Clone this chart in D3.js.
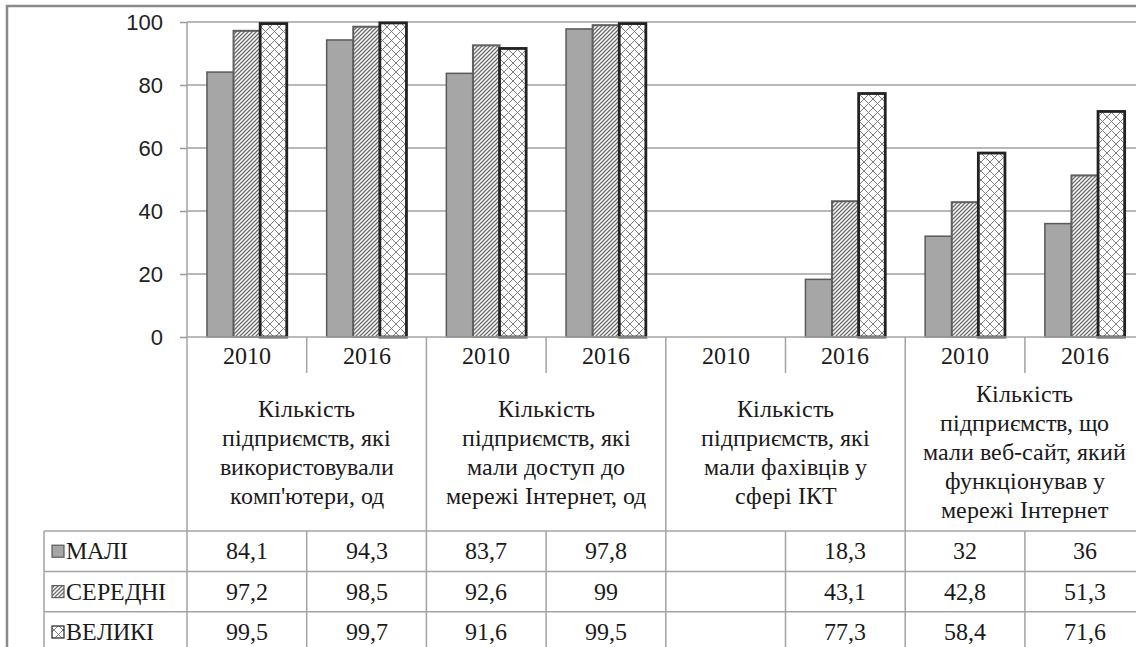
<!DOCTYPE html>
<html>
<head>
<meta charset="utf-8">
<script src="https://cdn.jsdelivr.net/npm/d3@7"></script>
<style>
  @font-face {
    font-family: "TableSerif";
    src: local("Liberation Serif"), local("LiberationSerif"), local("LiberationSerif-Regular"),
         local("Tinos"), local("Tinos-Regular"), local("FreeSerif"), local("Noto Serif");
  }
</style>
</head>
<body style="margin:0">
<svg id="chart" width="1136" height="647"></svg>
<script>
// categories: 4 indicator groups x 2 years
const groupLabels = [
  ["Кількість", "підприємств, які", "використовували", "комп'ютери, од"],
  ["Кількість", "підприємств, які", "мали доступ до", "мережі Інтернет, од"],
  ["Кількість", "підприємств, які", "мали фахівців у", "сфері ІКТ"],
  ["Кількість", "підприємств, що", "мали веб-сайт, який", "функціонував у", "мережі Інтернет"]
];
const years = ["2010", "2016"];
const seriesNames = ["МАЛІ", "СЕРЕДНІ", "ВЕЛИКІ"];

// values per category (group/year), null = no data
const maliValues    = [84.1, 94.3, 83.7, 97.8, null, 18.3, 32, 36];
const seredniValues = [97.2, 98.5, 92.6, 99, null, 43.1, 42.8, 51.3];
const velykiValues  = [99.5, 99.7, 91.6, 99.5, null, 77.3, 58.4, 71.6];

const yTicks = [0, 20, 40, 60, 80, 100];

const seriesValues = [maliValues, seredniValues, velykiValues];
const categories = [];
groupLabels.forEach((g, gi) => years.forEach((yr, yi) => categories.push({ idx: gi * 2 + yi, group: gi, year: yr })));

const svg = d3.select("#chart");
const W = 1136, H = 647;
const serifFont = "TableSerif, 'Liberation Serif', Tinos, 'Times New Roman', FreeSerif";

// plot geometry
const plotLeft = 187, plotTop = 22, base = 337;
const step = 119.7;
const plotRight = plotLeft + step * categories.length;

const x = d3.scaleBand()
  .domain(categories.map(d => d.idx))
  .range([plotLeft, plotRight])
  .padding(0);

const xs = d3.scaleBand()
  .domain(seriesNames)
  .range([0, x.bandwidth()])
  .paddingInner(0)
  .paddingOuter(0.75);

const y = d3.scaleLinear().domain([0, 100]).range([base, plotTop]);

// patterns
const defs = svg.append("defs");
let hatch = defs.append("pattern")
  .attr("id", "hatch").attr("patternUnits", "userSpaceOnUse")
  .attr("width", 4).attr("height", 4);
hatch.append("rect").attr("width", 4).attr("height", 4).attr("fill", "#fff");
hatch.append("path").attr("d", "M-1,1 l2,-2 M0,4 l4,-4 M3,5 l2,-2")
  .attr("stroke", "#6b6b6b").attr("stroke-width", 1.3);

let cross = defs.append("pattern")
  .attr("id", "cross").attr("patternUnits", "userSpaceOnUse")
  .attr("width", 9).attr("height", 9);
cross.append("rect").attr("width", 9).attr("height", 9).attr("fill", "#fff");
cross.append("path").attr("d", "M0,0 L9,9 M9,0 L0,9")
  .attr("stroke", "#808080").attr("stroke-width", 1);

const fills = ["#a6a6a6", "url(#hatch)", "url(#cross)"];
const strokes = ["#595959", "#5f5f5f", "#222"];
const strokeW = [1.5, 2, 2.8];

svg.append("rect").attr("width", W).attr("height", H).attr("fill", "#fff");

// outer frame
svg.append("rect")
  .attr("x", 7).attr("y", 6).attr("width", W + 20).attr("height", H + 20)
  .attr("fill", "none").attr("stroke", "#8a8a8a").attr("stroke-width", 2.5);

// gridlines + axis
const yAxis = d3.axisLeft(y).tickValues(yTicks).tickSize(7).tickPadding(17);
const gAxis = svg.append("g").attr("transform", `translate(${plotLeft},0)`).call(yAxis);
gAxis.attr("font-family", null).attr("font-size", null);
gAxis.select(".domain").remove();
gAxis.selectAll(".tick line").attr("stroke", "#9a9a9a").attr("stroke-width", 1.5);
gAxis.selectAll(".tick text")
  .style("font-family", "'Liberation Sans'")
  .attr("font-size", 22)
  .attr("fill", "#222");

svg.append("g").selectAll("line")
  .data(yTicks.filter(t => t > 0))
  .join("line")
  .attr("x1", plotLeft).attr("x2", W)
  .attr("y1", d => y(d)).attr("y2", d => y(d))
  .attr("stroke", "#a0a0a0").attr("stroke-width", 1.5);

// bars
seriesNames.forEach((s, si) => {
  svg.append("g").selectAll("rect")
    .data(categories.filter(c => seriesValues[si][c.idx] != null))
    .join("rect")
    .attr("x", c => x(c.idx) + xs(s))
    .attr("width", xs.bandwidth())
    .attr("y", c => y(seriesValues[si][c.idx]))
    .attr("height", c => base - y(seriesValues[si][c.idx]))
    .attr("fill", fills[si])
    .attr("stroke", strokes[si])
    .attr("stroke-width", strokeW[si]);
});

// table lines
const lineCol = "#a3a3a3";
const rowTop = 531, rowH = 40.4;
const tableBottom = H + 10;
const lines = svg.append("g").attr("stroke", lineCol).attr("stroke-width", 1.5);

lines.append("line").attr("x1", plotLeft).attr("x2", W).attr("y1", base).attr("y2", base);
lines.append("line").attr("x1", plotLeft).attr("x2", plotLeft).attr("y1", plotTop).attr("y2", tableBottom);
seriesNames.forEach((s, i) => {
  lines.append("line").attr("x1", 44).attr("x2", W)
    .attr("y1", rowTop + i * rowH).attr("y2", rowTop + i * rowH);
});
lines.append("line").attr("x1", 44).attr("x2", 44).attr("y1", rowTop).attr("y2", tableBottom);

categories.forEach(c => {
  let xr = x(c.idx) + x.bandwidth();
  if (c.idx % 2 === 1) {
    lines.append("line").attr("x1", xr).attr("x2", xr).attr("y1", base).attr("y2", tableBottom);
  } else {
    lines.append("line").attr("x1", xr).attr("x2", xr).attr("y1", base).attr("y2", 373);
    lines.append("line").attr("x1", xr).attr("x2", xr).attr("y1", rowTop).attr("y2", tableBottom);
  }
});

// serif table text: one plain text element per line, baseline = centre + 8
function cell(str, cx, cy, anchor) {
  svg.append("text")
    .attr("x", cx).attr("y", cy + 8)
    .attr("font-size", 24)
    .attr("fill", "#1a1a1a")
    .attr("text-anchor", anchor || "middle")
    .style("font-family", serifFont)
    .text(str);
}

// year labels
categories.forEach(c => cell(c.year, x(c.idx) + x.bandwidth() / 2, 356));

// group labels
const lineGap = 29, blockMid = 452;
groupLabels.forEach((g, gi) => {
  let cx = x(gi * 2) + x.bandwidth();
  g.forEach((ln, li) => cell(ln, cx, blockMid + (li - (g.length - 1) / 2) * lineGap));
});

// data rows
const fmt = v => v == null ? "" : String(v).replace(".", ",");
seriesNames.forEach((s, si) => {
  let cy = rowTop + si * rowH + rowH / 2;
  svg.append("rect")
    .attr("x", 52).attr("y", cy - 6).attr("width", 12).attr("height", 12)
    .attr("fill", fills[si]).attr("stroke", strokes[si]).attr("stroke-width", 1.2);
  cell(s, 66, cy, "start");
  categories.forEach(c => {
    let v = seriesValues[si][c.idx];
    if (v != null) cell(fmt(v), x(c.idx) + x.bandwidth() / 2, cy);
  });
});
</script>
</body>
</html>
